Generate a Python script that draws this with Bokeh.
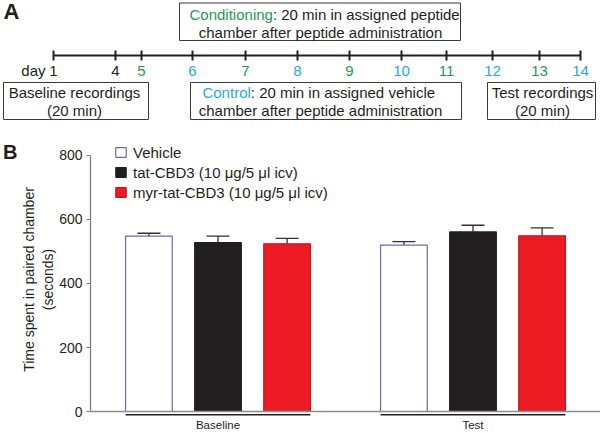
from bokeh.plotting import figure
from bokeh.models import (ColumnDataSource, Range1d, FactorRange, Whisker, TeeHead,
                          Span, Legend, LegendItem, FixedTicker, LinearAxis)
from bokeh.transform import dodge
from bokeh.embed import file_html
from bokeh.resources import INLINE
from bokeh.core.properties import value

FONT = "Liberation Sans"
INK = "#231f20"
GREEN = "#1f9a55"
CYAN = "#27aae1"

# ---------------- data ----------------
groups = ["Baseline", "Test"]
treatments = ["Vehicle", "tat-CBD3 (10 \u03bcg/5 \u03bcl icv)", "myr-tat-CBD3 (10 \u03bcg/5 \u03bcl icv)"]
vehicle_mean = [548, 520]
vehicle_sem = [9, 11]
tat_mean = [528, 561]
tat_sem = [20, 21]
myr_mean = [524, 549]
myr_sem = [17, 25]
y_ticks = [0, 200, 400, 600, 800]

days = ["1", "4", "5", "6", "7", "8", "9", "10", "11", "12", "13", "14"]
day_phase = ["baseline", "baseline", "conditioning", "control", "conditioning", "control",
             "conditioning", "control", "conditioning", "control", "conditioning", "control"]

# ---------------- layout (schematic positions, pixels) ----------------
day_x = [53, 115, 141, 192, 245, 297, 349, 401, 446, 492, 539, 580]
phase_color = {"baseline": INK, "conditioning": GREEN, "control": CYAN}

# ================= Panel A: timeline =================
top = figure(width=600, height=133, x_range=Range1d(0, 600), y_range=Range1d(133, 0),
             output_backend="svg", toolbar_location=None, min_border=0,
             min_border_left=0, min_border_right=0, min_border_top=0, min_border_bottom=0,
             x_axis_location=None, y_axis_location=None)
top.grid.visible = False
top.outline_line_color = None

tsrc = ColumnDataSource(dict(x=day_x, text=days, color=[phase_color[p] for p in day_phase]))
top.segment(x0=min(day_x), x1=max(day_x), y0=55, y1=55, line_color=INK, line_width=2)
top.segment(x0="x", x1="x", y0=50, y1=60, source=tsrc, line_color=INK, line_width=2)
top.text(x="x", y=70, text="text", text_color="color", source=tsrc,
         text_font=value(FONT), text_font_size="15px", text_align="center", text_baseline="middle")
top.text(x=[45], y=[70], text=["day"], text_color=INK, text_font=value(FONT),
         text_font_size="15px", text_align="right", text_baseline="middle")
top.text(x=[3], y=[11], text=["A"], text_color=INK, text_font=value(FONT), text_font_style="bold",
         text_font_size="22px", text_align="left", text_baseline="middle")

# boxes
top.quad(left=[179, 3, 190, 487], right=[460, 148, 461, 595], top=[2.5, 82, 82, 82],
         bottom=[40, 119, 119, 119], fill_color=None, line_color="#3a3a3a", line_width=1)

def t(x, y, s, color=INK, align="center"):
    top.text(x=[x], y=[y], text=[s], text_color=color, text_font=value(FONT),
             text_font_size="15px", text_align=align, text_baseline="middle")

# Conditioning box
t(272.4, 13.5, "Conditioning", GREEN, "right")
t(272.4, 13.5, ": 20 min in assigned peptide", INK, "left")
t(320, 31.5, "chamber after peptide administration")
# Baseline box
t(74, 92, "Baseline recordings")
t(74, 110, "(20 min)")
# Control box
t(250.3, 92, "Control", CYAN, "right")
t(250.3, 92, ": 20 min in assigned vehicle", INK, "left")
t(320, 110, "chamber after peptide administration")
# Test box
t(542, 92, "Test recordings")
t(542, 110, "(20 min)")

# ================= Panel B: bar chart =================
p = figure(width=600, height=300, x_range=FactorRange(factors=groups, range_padding=0),
           y_range=Range1d(-12.45, 837.35), output_backend="svg", toolbar_location=None,
           min_border_left=87, min_border_right=0, min_border_top=10, min_border_bottom=17)
p.grid.visible = False
p.outline_line_color = None

src = ColumnDataSource(dict(
    group=groups,
    vehicle=vehicle_mean, vehicle_up=[m + s for m, s in zip(vehicle_mean, vehicle_sem)],
    tat=tat_mean, tat_up=[m + s for m, s in zip(tat_mean, tat_sem)],
    myr=myr_mean, myr_up=[m + s for m, s in zip(myr_mean, myr_sem)],
))

series = [("vehicle", -0.271, "white", "#6b6ba8"),
          ("tat", 0.0, "#231f20", "#231f20"),
          ("myr", 0.271, "#ed1c24", "#c4161c")]
renderers = []
for col, off, fill, line in series:
    w = Whisker(base=dodge("group", off, range=p.x_range), upper=col + "_up", lower=col,
                source=src, line_color="#333333", line_width=1.3, lower_head=None,
                upper_head=TeeHead(size=23, line_color="#333333", line_width=1.3))
    p.add_layout(w)
    r = p.vbar(x=dodge("group", off, range=p.x_range), top=col, width=0.183, source=src,
               fill_color=fill, line_color=line, line_width=1.2)
    renderers.append(r)

# baseline at zero and group underlines
p.add_layout(Span(location=0, dimension="width", line_color="#8c8c8c", line_width=1.5))
p.segment(x0=dodge("group", -0.3625, range=p.x_range), x1=dodge("group", 0.3625, range=p.x_range),
          y0=-10.5, y1=-10.5, source=src, line_color=INK, line_width=2)

# axes
p.yaxis.ticker = FixedTicker(ticks=y_ticks)
p.yaxis.bounds = (0, 800)
p.yaxis.axis_label = "Time spent in paired chamber\n(seconds)"
p.yaxis.axis_label_text_font = FONT
p.yaxis.axis_label_text_font_style = "normal"
p.yaxis.axis_label_text_font_size = "14px"
p.yaxis.axis_label_text_color = INK
p.yaxis.axis_label_standoff = 0
p.yaxis.major_label_text_font = FONT
p.yaxis.major_label_text_font_size = "14px"
p.yaxis.major_label_text_color = INK
p.yaxis.major_label_standoff = 4
p.yaxis.major_tick_out = 4
p.yaxis.major_tick_in = 0
p.yaxis.minor_tick_out = 0
p.yaxis.minor_tick_in = 0
p.yaxis.minor_tick_line_color = None
p.yaxis.axis_line_color = "#7f7f7f"
p.yaxis.major_tick_line_color = "#7f7f7f"
p.yaxis.axis_line_width = 1.3

p.xaxis.axis_line_color = None
p.xaxis.major_tick_line_color = None
p.xaxis.major_tick_out = 0
p.xaxis.major_tick_in = 0
p.xaxis.major_label_text_font = FONT
p.xaxis.major_label_text_font_size = "11.5px"
p.xaxis.major_label_text_color = INK
p.xaxis.major_label_standoff = 3

legend = Legend(items=[LegendItem(label=lbl, renderers=[r]) for lbl, r in zip(treatments, renderers)],
                location=(24, 214.5), glyph_width=13, glyph_height=12, label_height=14,
                label_text_font=FONT, label_text_font_size="15px", label_text_color=INK,
                spacing=3, padding=0, margin=0, label_standoff=6,
                border_line_color=None, background_fill_alpha=0)
p.add_layout(legend)

# panel letter "B", carried by an outer left axis with a single labelled tick
p.extra_y_ranges = {"panel": Range1d(-12.45, 837.35)}
letter_axis = LinearAxis(y_range_name="panel", ticker=FixedTicker(ticks=[812]),
                         major_label_overrides={812: "B"},
                         axis_line_color=None, major_tick_line_color=None,
                         minor_tick_line_color=None, major_tick_out=0, major_tick_in=0,
                         minor_tick_out=0, minor_tick_in=0, axis_label_standoff=0,
                         major_label_standoff=0, major_label_text_font=FONT,
                         major_label_text_font_style="bold", major_label_text_font_size="20px",
                         major_label_text_color=INK)
p.add_layout(letter_axis, "left")

open("out.html", "w").write(file_html([top, p], INLINE))
